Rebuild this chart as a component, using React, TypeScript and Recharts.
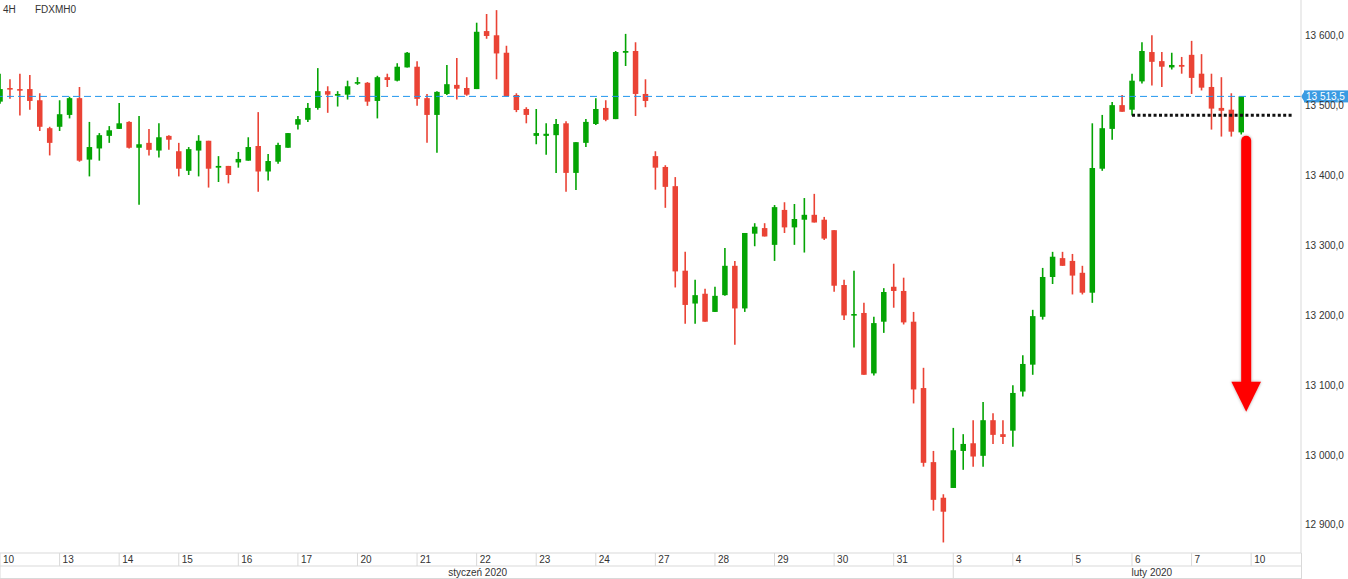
import React from 'react';
import { ComposedChart, Bar, XAxis, YAxis, ReferenceLine } from 'recharts';

// ---- data (FDXMH0, 4H candles) ----
const opens = [
  13506, 13525.5, 13524, 13524, 13508, 13468, 13470, 13487, 13511, 13423,
  13439, 13457, 13467, 13477, 13440, 13447, 13436, 13457, 13435, 13407,
  13436, 13450, 13411.5, 13414, 13419, 13421.5, 13442.5, 13406, 13420, 13440,
  13473, 13480, 13497, 13521, 13514.5, 13516, 13532, 13533, 13507, 13541,
  13536, 13555, 13556, 13511, 13487, 13517, 13530, 13525.5, 13524, 13607,
  13601, 13576, 13515.5, 13495.5, 13457, 13457, 13458, 13475, 13404, 13447,
  13474, 13497, 13481, 13576, 13578.5, 13517, 13428, 13412.5, 13385, 13264,
  13217, 13231, 13205, 13229, 13271, 13210, 13317, 13325, 13301, 13351,
  13326, 13337, 13344, 13337, 13322, 13243.5, 13200, 13203.5, 13117, 13191,
  13241, 13235, 13191, 13096, 12990, 12939, 12953, 13006, 13017, 12999,
  13050, 13030, 13035, 13091, 13129.5, 13198, 13255, 13282, 13278, 13261,
  13232.5, 13410, 13467, 13501, 13494.5, 13535, 13577, 13564, 13555, 13558.5,
  13573, 13546, 13527, 13497, 13494.5, 13462,
];
const highs = [
  13546, 13538, 13546, 13544, 13518, 13470, 13508, 13513, 13527, 13477,
  13461, 13471, 13504, 13478, 13485.5, 13467, 13475, 13458, 13447, 13441,
  13458, 13450, 13428, 13414, 13434, 13455, 13491, 13431, 13447, 13461,
  13485.5, 13504, 13554, 13528, 13521, 13536, 13541, 13534, 13543, 13546,
  13561, 13577, 13564, 13517, 13521, 13558.5, 13568.5, 13541, 13619, 13631.5,
  13637, 13586, 13518, 13498, 13495.5, 13475, 13481, 13478, 13448, 13481,
  13511, 13508, 13578.5, 13603, 13591, 13538, 13435, 13415, 13398, 13291,
  13251, 13238, 13241, 13296.5, 13278, 13318, 13332, 13332, 13358, 13362,
  13359.5, 13368, 13374, 13341, 13322, 13251, 13264, 13218, 13198, 13239,
  13274, 13254, 13205, 13125, 13006, 12944, 13039, 13030, 13050, 13076,
  13060, 13050, 13100, 13143, 13208, 13268, 13291, 13291, 13288, 13271,
  13475, 13487, 13505.5, 13515.5, 13546, 13591, 13601, 13577, 13576, 13570,
  13593, 13574, 13546, 13541, 13518, 13513.5,
];
const lows = [
  13503, 13510, 13486, 13494.5, 13464, 13429, 13464, 13482, 13420, 13399,
  13421.5, 13447, 13467, 13439, 13358.5, 13429, 13426, 13437, 13399, 13401,
  13399, 13383, 13391, 13389, 13411.5, 13421.5, 13377, 13393, 13417, 13440,
  13466, 13477, 13494.5, 13490, 13499, 13509, 13530, 13500, 13482, 13527,
  13535, 13555, 13500, 13447, 13433, 13515.5, 13509, 13514.5, 13524, 13596,
  13538, 13514, 13491, 13475, 13445, 13430, 13404, 13377, 13379.5, 13441,
  13472.5, 13478, 13481, 13557, 13485.5, 13498, 13380, 13354, 13240, 13188,
  13188, 13191, 13205, 13228, 13158, 13205, 13299, 13313, 13278, 13318,
  13301, 13290, 13333, 13308, 13234, 13193.5, 13154, 13115, 13114, 13175,
  13211, 13187, 13074, 12983.5, 12920.5, 12875, 12953, 12979, 12983.5, 12983.5,
  13016, 13016, 13012, 13084, 13115, 13194, 13245, 13271, 13230, 13230,
  13218, 13407, 13451.5, 13491.5, 13486, 13532, 13529, 13527, 13552, 13546,
  13517, 13522, 13466, 13456, 13456, 13459,
];
const closes = [
  13524, 13524, 13522, 13507, 13470, 13447, 13488, 13511, 13421.5, 13441,
  13458, 13465, 13475, 13440, 13445, 13437, 13455, 13451.5, 13410, 13438,
  13450, 13410, 13414, 13401, 13424, 13441, 13406, 13421, 13444, 13461,
  13481, 13497, 13521, 13516, 13517, 13528, 13534, 13506, 13541, 13537,
  13556, 13576, 13510, 13487, 13520, 13531, 13524.5, 13516, 13606, 13600,
  13575, 13514, 13494, 13487, 13461, 13460, 13474, 13404, 13448, 13477,
  13495.5, 13480, 13577, 13578.5, 13517, 13507, 13411.5, 13384, 13263, 13215,
  13229, 13191, 13228, 13271, 13210, 13318, 13327, 13313, 13355, 13326,
  13338, 13344, 13333, 13310, 13242.5, 13200, 13202, 13115, 13189, 13233.5,
  13235, 13190, 13094, 12989, 12936, 12919, 13007, 13016, 12998, 13050,
  13029, 13026, 13089, 13130.5, 13199, 13255, 13284, 13271, 13257, 13232.5,
  13411, 13468, 13501, 13491.5, 13536, 13578.5, 13563, 13556, 13558.5, 13556,
  13540, 13526, 13496, 13493, 13463, 13513.5,
];

const dayLabels = ['10', '13', '14', '15', '16', '17', '20', '21', '22', '23', '24', '27', '28', '29', '30', '31', '3', '4', '5', '6', '7', '10'];
const dayStarts = [0, 6, 12, 18, 24, 30, 36, 42, 48, 54, 60, 66, 72, 78, 84, 90, 96, 102, 108, 114, 120, 126];
const monthSeparators = [0, 96];
const monthLabels = ['styczeń 2020', 'luty 2020'];
const monthLabelAt = [48.1, 116];
const yTicks = [12900, 13000, 13100, 13200, 13300, 13400, 13500, 13600];
const lastPrice = 13513.5;
const supportLevel = 13486.5;
const supportFrom = 114;
const supportTo = 130.1;
const arrowAt = 125.5;
const arrowFrom = 13457;
const arrowTo = 13062;
const xDomain: [number, number] = [0, 131.02];
const yDomain: [number, number] = [12859.9, 13651.5];

const candles = opens.map((o, i) => ({ i, o, h: highs[i], l: lows[i], c: closes[i] }));

const FONT = '"Liberation Sans", Arial, sans-serif';
const GRID = '#d9d9d9';
const UP = '#04a404';
const DOWN = '#ea4335';
const BLUE = '#2196ee';
const TAG = '#3a9be2';

const fmt = (v: number) => {
  const [a, b] = v.toFixed(1).split('.');
  return a.replace(/\B(?=(\d{3})+(?!\d))/g, ' ') + ',' + b;
};

const Candle = (props: any) => {
  const { x, y, width, height } = props;
  const d = props.payload ?? props;
  if (x == null || y == null || !d) return null;
  const cx = x + width / 2;
  const span = d.h - d.l;
  const r = span > 0 ? height / span : 0;
  const yO = y + (d.h - d.o) * r;
  const yC = y + (d.h - d.c) * r;
  const col = d.c >= d.o ? UP : DOWN;
  const top = Math.min(yO, yC);
  const bh = Math.max(Math.abs(yO - yC), 1.6);
  return (
    <g>
      <line x1={cx} x2={cx} y1={y} y2={y + height} stroke={col} strokeWidth={1.6} />
      <rect x={cx - 2.75} y={top} width={5.5} height={bh} fill={col} />
    </g>
  );
};

const DayTick = (p: any) => {
  const { x, y, payload } = p;
  const idx = dayStarts.indexOf(payload.value);
  return (
    <g>
      <line x1={x} x2={x} y1={y} y2={y + 13} stroke={GRID} />
      <text x={x + 3} y={y + 10} fontSize={10} fill="#333" fontFamily={FONT}>
        {idx >= 0 ? dayLabels[idx] : ''}
      </text>
    </g>
  );
};

const MonthTick = (p: any) => {
  const { x, y, payload } = p;
  const sepIdx = monthSeparators.indexOf(payload.value);
  if (sepIdx >= 0) {
    return <line x1={x} x2={x} y1={y} y2={y + 13} stroke={GRID} />;
  }
  const li = monthLabelAt.indexOf(payload.value);
  return (
    <text x={x} y={y + 9.5} fontSize={10} fill="#333" textAnchor="middle" fontFamily={FONT}>
      {li >= 0 ? monthLabels[li] : ''}
    </text>
  );
};

const YTick = (p: any) => {
  const { x, y, payload } = p;
  return (
    <text x={x} y={y + 3.5} fontSize={10} fill="#333" fontFamily={FONT}>
      {fmt(payload.value)}
    </text>
  );
};

const PriceTag = (props: any) => {
  const vb = props.viewBox || {};
  const x = (vb.x ?? 0) + (vb.width ?? 0);
  const y = vb.y ?? 0;
  return (
    <g>
      <path d={`M${x},${y} L${x + 4},${y - 6} L${x + 4},${y + 6} Z`} fill={TAG} />
      <rect x={x + 3} y={y - 6} width={48} height={12} fill={TAG} />
      <text x={x + 5} y={y + 3.5} fontSize={10} fill="#fff" fontFamily={FONT}>
        {fmt(lastPrice)}
      </text>
    </g>
  );
};

const Arrow = (p: any) => {
  const { x1, y1, y2 } = p;
  if (x1 == null) return null;
  const cx = x1;
  const hw = 5;
  const headH = 30;
  const headW = 14.8;
  const shaftBottom = y2 - headH + 1;
  const shaft = `M${cx - hw},${shaftBottom} L${cx - hw},${y1 + hw} A${hw},${hw} 0 0 1 ${cx + hw},${y1 + hw} L${cx + hw},${shaftBottom} Z`;
  const head = `M${cx - headW},${y2 - headH} L${cx + headW},${y2 - headH} L${cx},${y2} Z`;
  return (
    <g>
      <defs>
        <filter id="arrowShadow" x="-100%" y="-10%" width="300%" height="120%">
          <feDropShadow dx="0" dy="0" stdDeviation="1.4" floodColor="#000" floodOpacity="0.35" />
        </filter>
      </defs>
      <g filter="url(#arrowShadow)">
        <path d={shaft} fill="#ff0000" />
        <path d={head} fill="#ff0000" />
      </g>
    </g>
  );
};

export default function App() {
  return (
    <div
      style={{
        position: 'absolute',
        left: 0,
        top: 0,
        width: 1348,
        height: 579,
        background: '#fff',
        fontFamily: FONT,
        overflow: 'hidden',
      }}
    >
      <ComposedChart
        width={1348}
        height={579}
        data={candles}
        margin={{ top: 0, right: 0, bottom: 0, left: 0 }}
      >
        <XAxis
          xAxisId="d"
          dataKey="i"
          type="number"
          domain={xDomain}
          allowDataOverflow
          ticks={dayStarts}
          interval={0}
          height={13}
          tickSize={0}
          tickMargin={0}
          tickLine={false}
          axisLine={{ stroke: GRID }}
          tick={<DayTick />}
        />
        <XAxis
          xAxisId="m"
          dataKey="i"
          type="number"
          domain={xDomain}
          allowDataOverflow
          ticks={[...monthSeparators, ...monthLabelAt].sort((a, b) => a - b)}
          interval={0}
          height={13}
          tickSize={0}
          tickMargin={0}
          tickLine={false}
          axisLine={{ stroke: GRID }}
          tick={<MonthTick />}
        />
        <YAxis
          orientation="right"
          width={47}
          domain={yDomain}
          allowDataOverflow
          ticks={yTicks}
          interval={0}
          tickSize={0}
          tickMargin={4}
          tickLine={false}
          axisLine={{ stroke: GRID }}
          tick={<YTick />}
        />
        <ReferenceLine
          xAxisId="d"
          y={lastPrice}
          stroke={BLUE}
          strokeDasharray="7 4"
          strokeWidth={1}
          label={(props: any) => <PriceTag {...props} />}
        />
        <Bar
          xAxisId="d"
          dataKey={(d: any) => [d.l, d.h]}
          barSize={6}
          shape={<Candle />}
          isAnimationActive={false}
        />
        <ReferenceLine
          xAxisId="d"
          segment={[
            { x: supportFrom, y: supportLevel },
            { x: supportTo, y: supportLevel },
          ]}
          stroke="#111"
          strokeWidth={3}
          strokeDasharray="3 2.4"
          ifOverflow="visible"
        />
        <ReferenceLine
          xAxisId="d"
          segment={[
            { x: arrowAt, y: arrowFrom },
            { x: arrowAt, y: arrowTo },
          ]}
          ifOverflow="visible"
          shape={(p: any) => <Arrow {...p} />}
        />
      </ComposedChart>
      <div style={{ position: 'absolute', left: 1300.5, top: 553, width: 1, height: 26, background: GRID }} />
      <div style={{ position: 'absolute', left: 0, top: 578, width: 1301, height: 1, background: GRID }} />
      <div style={{ position: 'absolute', left: 3, top: 4, fontSize: 10, color: '#333', lineHeight: '12px' }}>4H</div>
      <div style={{ position: 'absolute', left: 35, top: 4, fontSize: 10, color: '#333', lineHeight: '12px' }}>FDXMH0</div>
    </div>
  );
}
